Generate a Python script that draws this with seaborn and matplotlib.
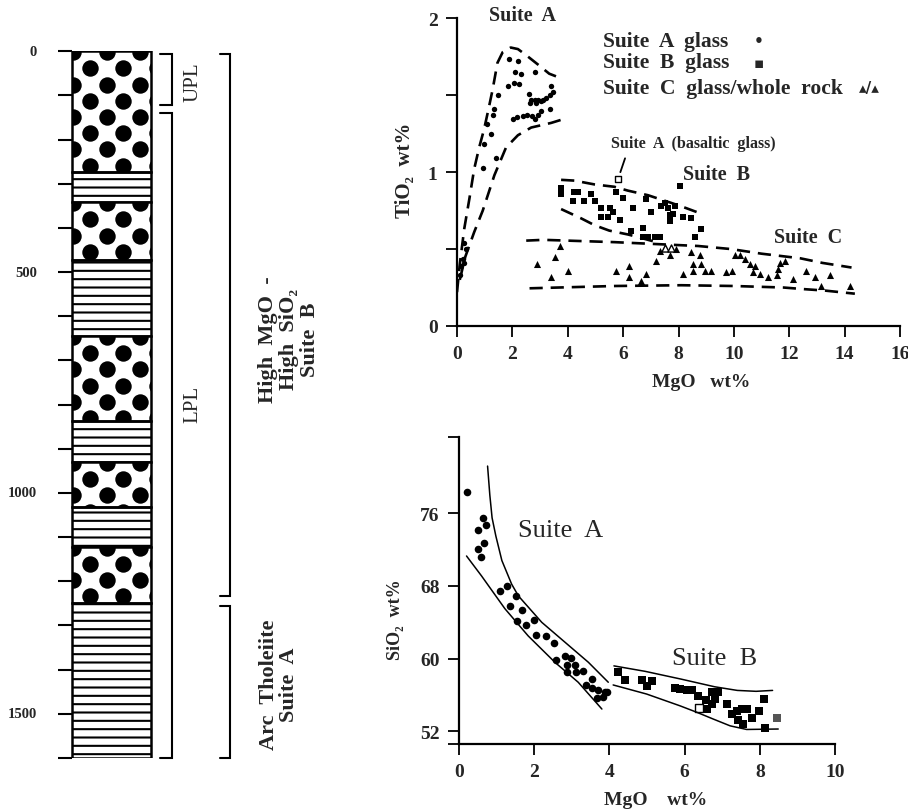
import numpy as np
import pandas as pd
import seaborn as sns
import matplotlib.pyplot as plt
from matplotlib.patches import Rectangle

# ---------------- stratigraphic column (depth, m) ----------------
layer_top = [0, 274, 342, 473, 645, 837, 930, 1032, 1122, 1249]
layer_base = [274, 342, 473, 645, 837, 930, 1032, 1122, 1249, 1600]
layer_kind = ['pillow', 'sheet', 'pillow', 'sheet', 'pillow',
              'sheet', 'pillow', 'sheet', 'pillow', 'sheet']
depth_ticks = list(range(0, 1601, 100))
depth_labels = [0, 500, 1000, 1500]

unit_names = ['UPL', 'LPL']
unit_top = [5, 140]
unit_base = [121, 1600]
unit_label_depth = [67, 798]

suite_names = ['High  MgO  -\nHigh  SiO₂\nSuite  B', 'Arc  Tholeiite\nSuite  A']
suite_top = [6, 1256]
suite_base = [1233, 1600]
suite_label_depth = [651, 1433]

# ---------------- TiO2 vs MgO ----------------
a_mgo = [1.89, 2.19, 2.10, 2.31, 2.80, 1.83, 2.07, 2.25, 3.40, 3.46, 3.37, 2.61, 2.68,
         2.80, 2.94, 3.10, 3.22, 2.64, 2.86, 3.04, 2.01, 2.17, 2.38, 2.53, 2.70, 2.80,
         2.94, 3.04, 3.37, 1.47, 1.35, 1.29, 1.08, 1.23, 0.99, 1.41, 0.93, 0.26, 0.33,
         0.21, 0.14, 0.26, 0.10]
a_tio2 = [1.735, 1.72, 1.65, 1.64, 1.65, 1.56, 1.58, 1.57, 1.56, 1.52, 1.50, 1.51, 1.47,
          1.47, 1.47, 1.47, 1.48, 1.45, 1.45, 1.46, 1.345, 1.357, 1.367, 1.371, 1.363, 1.345,
          1.371, 1.40, 1.41, 1.50, 1.41, 1.37, 1.31, 1.25, 1.18, 1.09, 1.025, 0.54, 0.50,
          0.435, 0.39, 0.41, 0.33]

b_mgo = [3.76, 3.76, 4.24, 4.37, 4.18, 4.60, 4.85, 4.97, 5.21, 5.51, 5.75, 5.99, 5.21,
         5.45, 5.63, 5.87, 6.35, 6.84, 7.02, 7.38, 7.50, 7.62, 7.86, 7.68, 7.80, 7.68,
         8.16, 8.46, 8.04, 8.82, 8.58, 6.29, 6.72, 6.72, 6.90, 7.14, 7.32]
b_tio2 = [0.90, 0.86, 0.87, 0.87, 0.81, 0.81, 0.86, 0.81, 0.77, 0.77, 0.87, 0.83, 0.71,
          0.71, 0.74, 0.69, 0.77, 0.825, 0.74, 0.78, 0.80, 0.77, 0.78, 0.72, 0.73, 0.68,
          0.71, 0.70, 0.91, 0.63, 0.58, 0.62, 0.64, 0.58, 0.58, 0.58, 0.58]

basaltic_mgo = [5.8]
basaltic_tio2 = [0.955]

c_mgo = [2.89, 3.40, 3.54, 3.73, 4.00, 5.75, 6.20, 6.20, 6.65, 6.84, 7.20, 7.32, 7.50,
         7.68, 7.74, 7.92, 8.16, 8.46, 8.76, 8.52, 8.82, 8.52, 8.94, 9.19, 9.73, 9.93,
         10.03, 10.21, 10.39, 10.57, 10.75, 10.69, 10.93, 11.24, 11.60, 11.66, 11.84,
         11.54, 12.14, 12.62, 12.92, 13.16, 13.47, 14.19]
c_tio2 = [0.40, 0.32, 0.45, 0.52, 0.36, 0.36, 0.39, 0.32, 0.295, 0.34, 0.425, 0.49, 0.51,
          0.46, 0.51, 0.50, 0.34, 0.48, 0.46, 0.40, 0.40, 0.36, 0.36, 0.36, 0.35, 0.36,
          0.46, 0.46, 0.435, 0.40, 0.39, 0.35, 0.34, 0.32, 0.37, 0.41, 0.425, 0.33,
          0.305, 0.36, 0.32, 0.26, 0.33, 0.26]
c_kind = ['glass'] * len(c_mgo)
c_kind[12] = 'rock'
c_kind[14] = 'rock'

# dashed fields
envA_up_x = [0.0, 0.1, 0.26, 0.45, 0.62, 0.8, 0.98, 1.15, 1.29, 1.46, 1.65, 1.94, 2.2, 2.5, 2.92, 3.33, 3.76]
envA_up_y = [0.22, 0.40, 0.63, 0.83, 1.02, 1.16, 1.28, 1.42, 1.54, 1.71, 1.78, 1.81, 1.80, 1.76, 1.70, 1.64, 1.61]
envA_lo_x = [0.1, 0.3, 0.62, 0.93, 1.35, 1.77, 2.2, 2.68, 3.4, 3.76]
envA_lo_y = [0.30, 0.45, 0.61, 0.75, 0.98, 1.16, 1.24, 1.29, 1.32, 1.34]
envB_up_x = [3.76, 4.24, 4.97, 5.68, 6.17, 6.9, 7.74, 8.22, 8.82]
envB_up_y = [0.95, 0.945, 0.92, 0.905, 0.88, 0.85, 0.80, 0.77, 0.73]
envB_lo_x = [3.76, 4.12, 4.48, 4.97, 5.5, 6.17, 6.6, 7.2]
envB_lo_y = [0.76, 0.73, 0.70, 0.655, 0.62, 0.595, 0.575, 0.545]
envC_up_x = [2.5, 3.12, 5.69, 6.9, 8.71, 9.9, 11.0, 12.4, 13.2, 14.25]
envC_up_y = [0.555, 0.56, 0.545, 0.535, 0.52, 0.50, 0.47, 0.44, 0.41, 0.38]
envC_lo_x = [2.62, 5.69, 8.1, 10.0, 11.8, 12.5, 13.3, 14.37]
envC_lo_y = [0.245, 0.26, 0.265, 0.26, 0.25, 0.24, 0.23, 0.21]

# ---------------- SiO2 vs MgO ----------------
sa_mgo = [0.20, 0.65, 0.71, 0.50, 0.67, 0.50, 0.59, 1.09, 1.28, 1.51, 1.36, 1.67, 1.55,
          1.78, 1.99, 2.05, 2.31, 2.53, 2.58, 2.82, 2.98, 2.86, 3.09, 2.88, 3.10, 3.31,
          3.55, 3.38, 3.53, 3.70, 3.88, 3.66, 3.84, 3.93]
sa_sio2 = [78.3, 75.45, 74.7, 74.2, 72.7, 72.1, 71.2, 67.5, 68.0, 66.9, 65.8, 65.4, 64.1,
           63.7, 64.3, 62.6, 62.45, 61.7, 59.8, 60.3, 60.1, 59.3, 59.3, 58.5, 58.5, 58.6,
           57.75, 57.1, 56.8, 56.5, 56.3, 55.7, 55.8, 56.3]
sb_mgo = [4.24, 4.41, 4.86, 4.99, 5.12, 5.74, 5.88, 6.06, 6.19, 6.36, 6.72, 6.90, 6.57,
          6.72, 6.59, 6.81, 7.12, 7.25, 7.39, 7.52, 7.65, 7.43, 7.56, 7.78, 7.99, 8.14, 8.10]
sb_sio2 = [58.5, 57.6, 57.6, 57.0, 57.5, 56.8, 56.65, 56.5, 56.5, 55.9, 56.3, 56.35, 55.4,
           55.0, 54.5, 55.6, 55.0, 53.9, 54.25, 54.45, 54.45, 53.2, 52.8, 53.5, 54.25, 52.4, 55.6]
sb_open_mgo = [6.39]
sb_open_sio2 = [54.6]
sb_grey_mgo = [8.45]
sb_grey_sio2 = [53.5]

fA_out_x = [0.76, 0.82, 0.88, 0.98, 1.14, 1.40, 1.58, 2.20, 2.82, 3.44, 3.97]
fA_out_y = [81.2, 78.0, 75.5, 73.5, 70.8, 68.2, 66.9, 64.0, 61.8, 59.6, 57.4]
fA_in_x = [0.20, 0.60, 1.22, 1.84, 2.55, 3.17, 3.80]
fA_in_y = [71.3, 69.1, 65.5, 62.5, 59.6, 57.4, 54.45]
fB_up_x = [4.12, 4.95, 5.90, 6.80, 7.40, 7.90, 8.34]
fB_up_y = [59.2, 58.6, 57.75, 56.9, 56.5, 56.4, 56.5]
fB_lo_x = [4.10, 4.99, 5.88, 6.32, 6.76, 7.21, 7.65, 8.49]
fB_lo_y = [57.1, 56.1, 54.8, 54.1, 53.35, 52.6, 52.2, 52.25]

# ---------------- style ----------------
sns.set_theme(style='white')
plt.rcParams['font.family'] = ['Liberation Serif', 'DejaVu Serif', 'DejaVu Sans']
plt.rcParams['font.weight'] = 'bold'
plt.rcParams['hatch.linewidth'] = 1.5
plt.rcParams['hatch.color'] = 'black'

fig = plt.figure(figsize=(9.08, 8.12), dpi=100)
W, H = 908, 812

# ---------------- column ----------------
ax0 = fig.add_axes([0, 1 - 759 / H, 440 / W, (759 - 52.3) / H])
ax0.set_xlim(0, 440)
ax0.set_ylim(1600, 0)
ax0.axis('off')

col_x0, col_w = 72, 79
row_step = 36.7
for top, base, kind in zip(layer_top, layer_base, layer_kind):
    if kind == 'sheet':
        ax0.add_patch(Rectangle((col_x0, top), col_w, base - top, facecolor='white',
                                edgecolor='black', hatch='--', lw=1.8, zorder=2))
    else:
        clip = Rectangle((col_x0, top), col_w, base - top, facecolor='white',
                         edgecolor='none', zorder=2)
        ax0.add_patch(clip)
        xs, ys = [], []
        for i, r in enumerate(np.arange(top + 2, base + 20, row_step)):
            start = 73.3 if i % 2 == 0 else 56.7
            for x in np.arange(start, 175, 33.3):
                xs.append(x)
                ys.append(r)
        sc = ax0.scatter(xs, ys, s=140, c='black', linewidths=0, zorder=3)
        sc.set_clip_path(clip)
        ax0.add_patch(Rectangle((col_x0, top), col_w, base - top, facecolor='none',
                                edgecolor='black', lw=1.8, zorder=4))

ax0.hlines(depth_ticks, 58, col_x0, color='black', lw=1.5, clip_on=False)
for d in depth_labels:
    ax0.text(37, d, str(d), ha='right', va='center', fontsize=10.5, fontweight='bold')


def bracket(x, top, base, tick):
    ax0.plot([x - tick, x, x, x - tick], [top, top, base, base], color='black',
             lw=1.5, clip_on=False, solid_joinstyle='miter')


for name, top, base, yl in zip(unit_names, unit_top, unit_base, unit_label_depth):
    bracket(171.5, top, base, 12)
    ax0.text(193, yl, name, rotation=90, ha='center', va='center', fontsize=15,
             fontweight='normal')

for name, top, base, yl, xl in zip(suite_names, suite_top, suite_base,
                                   suite_label_depth, [289, 279]):
    bracket(230, top, base, 10)
    ax0.text(xl, yl, name, rotation=90, ha='center', va='center', fontsize=16,
             fontweight='bold', multialignment='center', linespacing=1.05)

# ---------------- TiO2 vs MgO ----------------
ax1 = fig.add_axes([457 / W, 1 - 327 / H, 443 / W, 307.7 / H])
ax1.set_xlim(0, 16)
ax1.set_ylim(0, 2)

for ex, ey in [(envA_up_x, envA_up_y), (envA_lo_x, envA_lo_y), (envB_up_x, envB_up_y),
               (envB_lo_x, envB_lo_y), (envC_up_x, envC_up_y), (envC_lo_x, envC_lo_y)]:
    ax1.plot(ex, ey, color='black', lw=1.9, dashes=(5, 3))

sns.scatterplot(x=a_mgo, y=a_tio2, marker='o', s=15, color='black', linewidth=0, ax=ax1)
sns.scatterplot(x=b_mgo, y=b_tio2, marker='s', s=22, color='black', linewidth=0, ax=ax1)
sns.scatterplot(x=basaltic_mgo, y=basaltic_tio2, marker='s', s=20, facecolor='white',
                edgecolor='black', linewidth=1, ax=ax1)
c_df = pd.DataFrame({'mgo': c_mgo, 'tio2': c_tio2, 'kind': c_kind})
sns.scatterplot(data=c_df[c_df.kind == 'glass'], x='mgo', y='tio2', marker='^', s=26,
                color='black', linewidth=0, ax=ax1)
sns.scatterplot(data=c_df[c_df.kind == 'rock'], x='mgo', y='tio2', marker='^', s=26,
                facecolor='white', edgecolor='black', linewidth=1, ax=ax1)

ax1.annotate('', xy=(5.9, 1.0), xytext=(6.07, 1.09),
             arrowprops=dict(arrowstyle='-', lw=1.3, color='black', shrinkA=0, shrinkB=0))
ax1.text(8.52, 1.19, 'Suite  A  (basaltic  glass)', ha='center', va='center', fontsize=11.5)
ax1.text(2.35, 2.02, 'Suite  A', ha='center', va='center', fontsize=14.5, clip_on=False)
ax1.text(9.39, 0.99, 'Suite  B', ha='center', va='center', fontsize=14.5)
ax1.text(12.67, 0.58, 'Suite  C', ha='center', va='center', fontsize=14.5)

leg_lab = ['Suite  A  glass', 'Suite  B  glass', 'Suite  C  glass/whole  rock']
leg_sym = ['•', '▪', '▴/▴']
leg_y = [1.855, 1.714, 1.55]
leg_sym_x = [10.7, 10.7, 14.5]
for lab, sym, ly, sx in zip(leg_lab, leg_sym, leg_y, leg_sym_x):
    ax1.text(5.27, ly, lab, ha='left', va='center', fontsize=15.5)
    ax1.text(sx, ly, sym, ha='left', va='center', fontsize=11,
             family=['DejaVu Sans'])

ax1.set_xticks(range(0, 17, 2))
ax1.set_yticks([0, 0.5, 1, 1.5, 2])
ax1.set_yticklabels(['0', '', '1', '', '2'])
ax1.text(-0.117, 0.51, 'TiO₂  wt%', transform=ax1.transAxes, rotation=90,
         ha='center', va='center', fontsize=15, fontweight='bold')
ax1.text(0.552, -0.18, 'MgO   wt%', transform=ax1.transAxes, ha='center',
         va='center', fontsize=14)

# ---------------- SiO2 vs MgO ----------------
ax2 = fig.add_axes([459 / W, 67 / H, 376 / W, 307 / H])
ax2.set_xlim(0, 10)
ax2.set_ylim(50.6, 84.4)
for ex, ey in [(fA_out_x, fA_out_y), (fA_in_x, fA_in_y), (fB_up_x, fB_up_y),
               (fB_lo_x, fB_lo_y)]:
    ax2.plot(ex, ey, color='black', lw=1.1)
sns.scatterplot(x=sa_mgo, y=sa_sio2, marker='o', s=30, color='black', linewidth=0, ax=ax2)
sns.scatterplot(x=sb_mgo, y=sb_sio2, marker='s', s=30, color='black', linewidth=0, ax=ax2)
sns.scatterplot(x=sb_open_mgo, y=sb_open_sio2, marker='s', s=26, facecolor='white',
                edgecolor='black', linewidth=1, ax=ax2)
sns.scatterplot(x=sb_grey_mgo, y=sb_grey_sio2, marker='s', s=30, color='#555555',
                linewidth=0, ax=ax2)
ax2.text(2.69, 74.2, 'Suite  A', ha='center', va='center', fontsize=19, fontweight='normal')
ax2.text(6.81, 60.1, 'Suite  B', ha='center', va='center', fontsize=19, fontweight='normal')
ax2.set_xticks(range(0, 11, 2))
ax2.set_yticks([50.6, 52, 60, 68, 76, 84.4])
ax2.set_yticklabels(['', '52', '60', '68', '76', ''])
ax2.text(-0.17, 0.407, 'SiO₂  wt%', transform=ax2.transAxes, rotation=90,
         ha='center', va='center', fontsize=13)
ax2.text(0.524, -0.18, 'MgO    wt%', transform=ax2.transAxes, ha='center',
         va='center', fontsize=14)

for ax in (ax1, ax2):
    for side in ('top', 'right'):
        ax.spines[side].set_visible(False)
    for side in ('left', 'bottom'):
        ax.spines[side].set_color('black')
        ax.spines[side].set_linewidth(1.6)
    ax.tick_params(direction='out', length=8, width=1.3, color='black',
                   labelsize=14, pad=6, bottom=True, left=True)
    ax.set_facecolor('none')
    ax.set_xlabel('')
    ax.set_ylabel('')
    if ax.get_legend():
        ax.get_legend().remove()

fig.savefig('out.png', dpi=100, facecolor='white')
